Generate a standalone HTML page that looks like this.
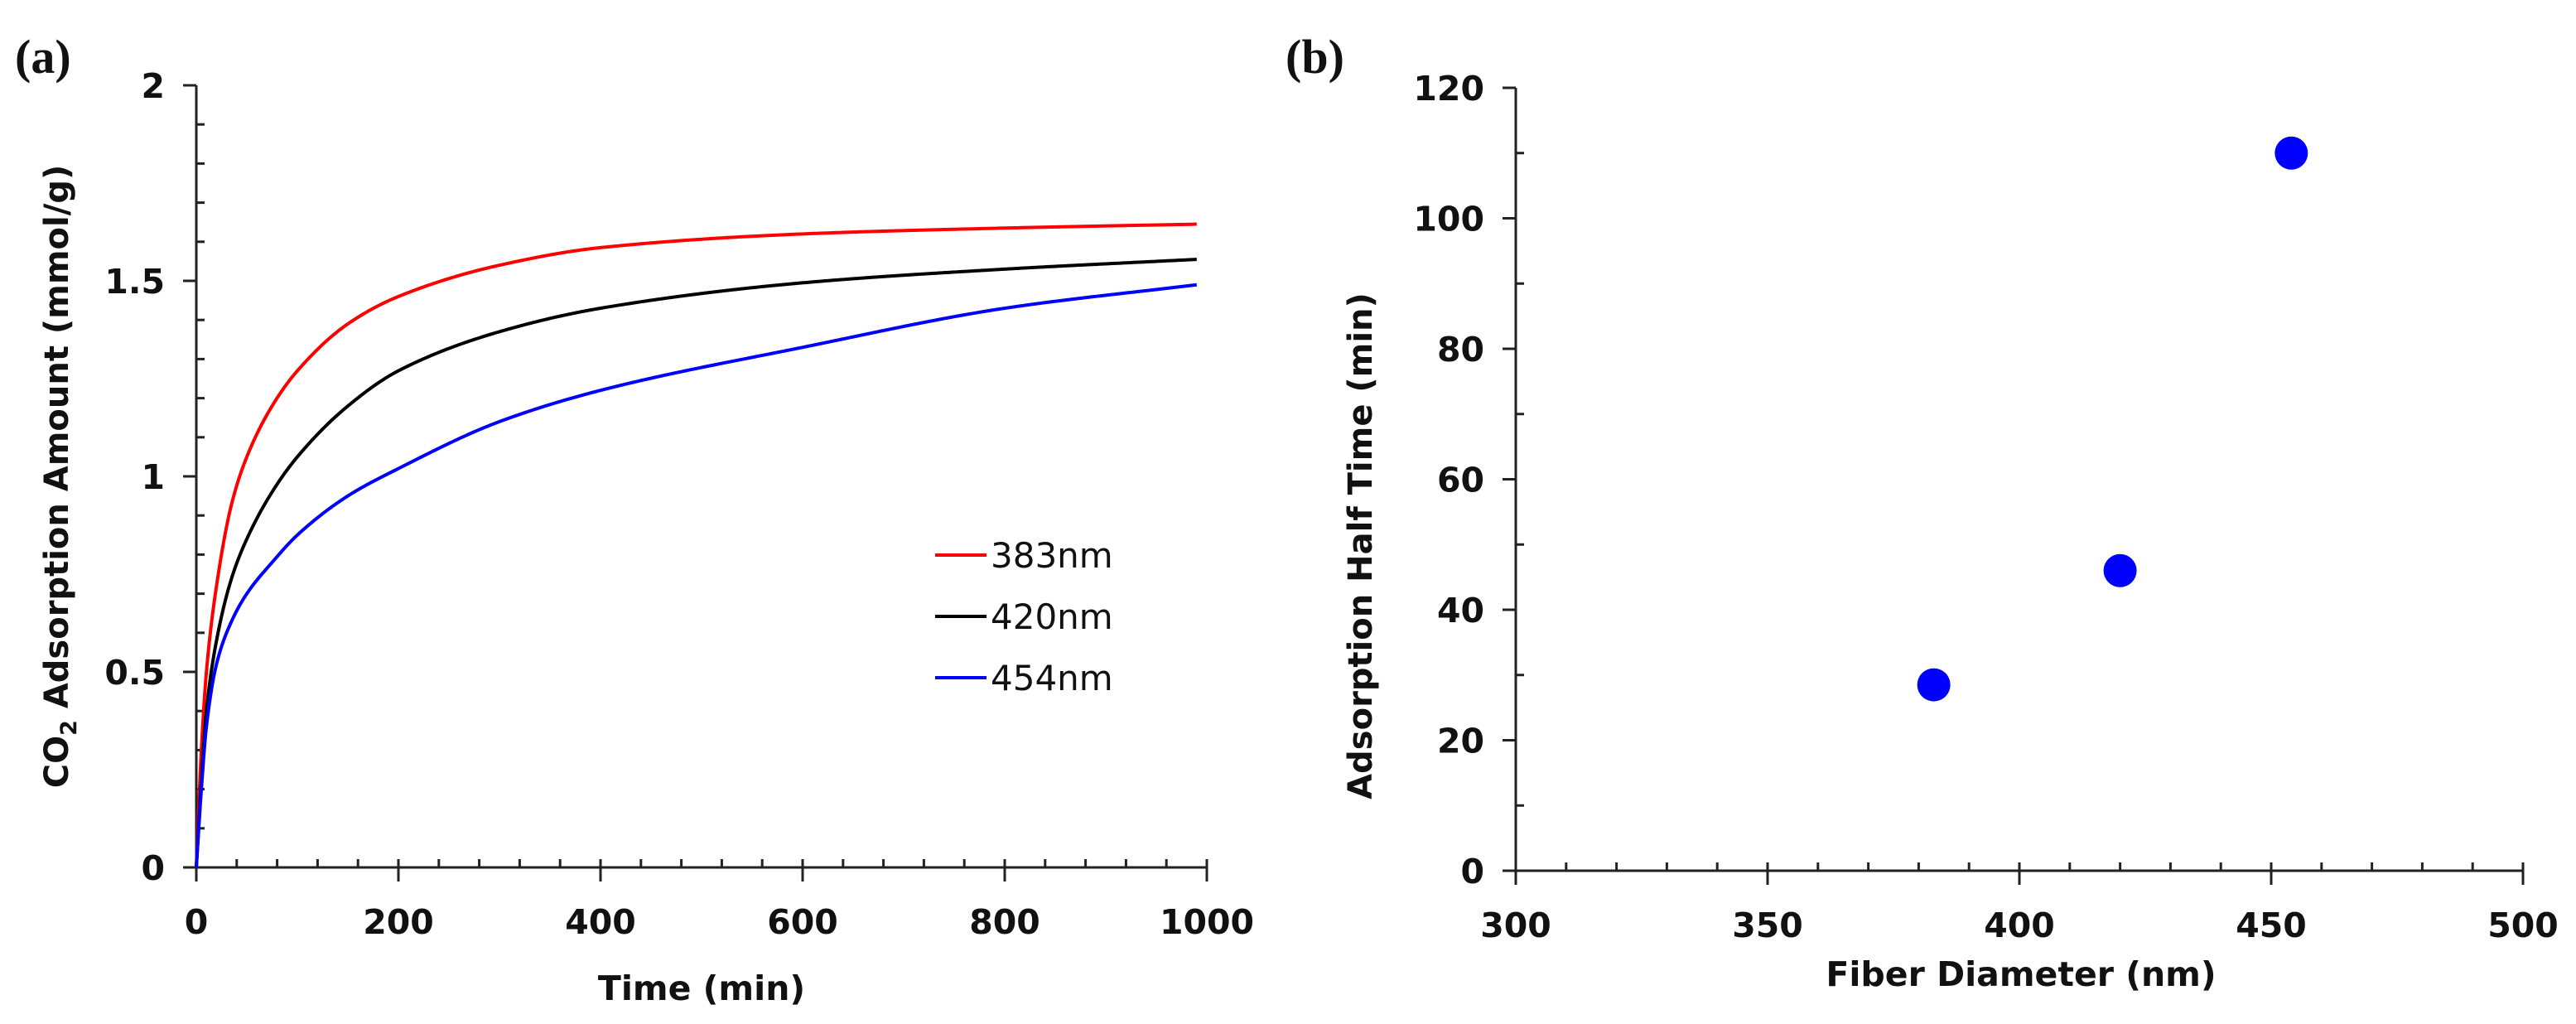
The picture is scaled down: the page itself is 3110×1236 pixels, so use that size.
<!DOCTYPE html>
<html><head><meta charset="utf-8"><style>
html,body{margin:0;padding:0;background:#fff;}
svg{display:block;}
text{font-family:"DejaVu Sans","Liberation Sans",sans-serif;font-weight:bold;fill:#111;}
</style></head><body>
<svg id="fig" width="3110" height="1236" viewBox="0 0 3110 1236" xmlns="http://www.w3.org/2000/svg">
<text x="18" y="88" style="font-family:'Liberation Serif',serif;font-size:58px">(a)</text>
<text x="1552" y="88" style="font-family:'Liberation Serif',serif;font-size:58px">(b)</text>
<g id="chartA"></g>
<g id="chartB"></g>
</svg>
<script>
// Chart A data
const timeA = [0, 5, 10, 20, 35, 50, 75, 100, 150, 200, 300, 400, 600, 800, 990];
const red383 = [0, 0.3, 0.5, 0.72, 0.93, 1.05, 1.18, 1.27, 1.39, 1.46, 1.54, 1.585, 1.62, 1.635, 1.645];
const black420 = [0, 0.22, 0.4, 0.58, 0.74, 0.84, 0.96, 1.05, 1.18, 1.27, 1.37, 1.43, 1.495, 1.53, 1.555];
const blue454 = [0, 0.2, 0.36, 0.52, 0.63, 0.7, 0.78, 0.85, 0.95, 1.02, 1.14, 1.22, 1.33, 1.43, 1.49];
const seriesNames = ["383nm", "420nm", "454nm"];
const seriesColors = ["#ff0000", "#000000", "#0000ff"];
const xTicksA = [0, 200, 400, 600, 800, 1000];
const yTicksA = [0, 0.5, 1, 1.5, 2];
const xTickLabelsA = ["0", "200", "400", "600", "800", "1000"];
const yTickLabelsA = ["0", "0.5", "1", "1.5", "2"];
// Chart B data
const diameters = [383, 420, 454];
const halfTimes = [28.5, 46, 110];
const xTicksB = [300, 350, 400, 450, 500];
const yTicksB = [0, 20, 40, 60, 80, 100, 120];

const NS = "http://www.w3.org/2000/svg";
function mk(parent, tag, attrs, txt) {
  const e = document.createElementNS(NS, tag);
  for (const k in attrs) e.setAttribute(k, attrs[k]);
  if (txt !== undefined) e.textContent = txt;
  parent.appendChild(e);
  return e;
}
// monotone cubic (Fritsch-Carlson) in data space
function monotone(xs, ys) {
  const n = xs.length, d = [], m = [];
  for (let i = 0; i < n - 1; i++) d.push((ys[i + 1] - ys[i]) / (xs[i + 1] - xs[i]));
  m[0] = d[0]; m[n - 1] = d[n - 2];
  for (let i = 1; i < n - 1; i++) {
    if (d[i - 1] * d[i] <= 0) m[i] = 0;
    else { const h0 = xs[i] - xs[i - 1], h1 = xs[i + 1] - xs[i];
      const w1 = 2 * h1 + h0, w2 = h1 + 2 * h0;
      m[i] = (w1 + w2) / (w1 / d[i - 1] + w2 / d[i]); }
  }
  return x => {
    let i = 0; while (i < n - 2 && x > xs[i + 1]) i++;
    const h = xs[i + 1] - xs[i], t = (x - xs[i]) / h;
    const h00 = 2*t*t*t - 3*t*t + 1, h10 = t*t*t - 2*t*t + t, h01 = -2*t*t*t + 3*t*t, h11 = t*t*t - t*t;
    return h00 * ys[i] + h10 * h * m[i] + h01 * ys[i + 1] + h11 * h * m[i + 1];
  };
}
// ---- Chart A ----
const gA = document.getElementById('chartA');
const ax0 = 237, ax1 = 1457, ay0 = 1047, ay1 = 103;
const xA = v => ax0 + (v - 0) / 1000 * (ax1 - ax0);
const yA = v => ay0 - v / 2 * (ay0 - ay1);
for (let v = 40; v < 1000; v += 40) {
  if (v % 200 === 0) continue;
  const t = mk(gA, 'line', {x1: xA(v), x2: xA(v), y1: ay0, y2: ay0 - 10, stroke: '#222', 'stroke-width': 3});
  
  
}
for (let i = 1; i < 20; i++) {
  if (i % 5 === 0) continue;
  const t = mk(gA, 'line', {x1: ax0, x2: ax0 + 10, y1: yA(i * 0.1), y2: yA(i * 0.1), stroke: '#222', 'stroke-width': 3});
  
  
}
xTicksA.forEach((v, i) => {
  const t = mk(gA, 'line', {x1: xA(v), x2: xA(v), y1: ay0 - 10, y2: ay0 + 17, stroke: '#222', 'stroke-width': 3});
  
  
  const l = mk(gA, 'text', {x: xA(v), y: ay0 + 80, 'text-anchor': 'middle', 'font-size': 41}, xTickLabelsA[i]);
  
  
});
yTicksA.forEach((v, i) => {
  const t = mk(gA, 'line', {x1: ax0 - 16, x2: ax0, y1: yA(v), y2: yA(v), stroke: '#222', 'stroke-width': 3});
  
  
  const l = mk(gA, 'text', {x: ax0 - 38, y: yA(v) + 15, 'text-anchor': 'end', 'font-size': 41}, yTickLabelsA[i]);
  
  
});
let axA = mk(gA, 'line', {x1: ax0 - 16, x2: ax1, y1: ay0, y2: ay0, stroke: '#222', 'stroke-width': 3});


axA = mk(gA, 'line', {x1: ax0, x2: ax0, y1: ay1, y2: ay0 + 17, stroke: '#222', 'stroke-width': 3});


[red383, black420, blue454].forEach((s, si) => {
  const f = monotone(timeA, s);
  const tMax = timeA[timeA.length - 1];
  let d = '';
  for (let k = 0; k <= 600; k++) {
    const t = tMax * Math.pow(k / 600, 1.6);
    d += (k ? ' L' : 'M') + xA(t).toFixed(2) + ',' + yA(f(t)).toFixed(2);
  }
  const p = mk(gA, 'path', {d: d, fill: 'none', stroke: seriesColors[si], 'stroke-width': 4});
  
  
  const ly = 670 + si * 74;
  const ll = mk(gA, 'line', {x1: 1129, x2: 1191, y1: ly, y2: ly, stroke: seriesColors[si], 'stroke-width': 4});
  
  
  const lt = mk(gA, 'text', {x: 1196, y: ly + 15, 'font-size': 42, style: 'font-weight:normal'}, seriesNames[si]);
  
  
});
let tA = mk(gA, 'text', {x: 847, y: 1207, 'text-anchor': 'middle', 'font-size': 41}, 'Time (min)');


tA = mk(gA, 'text', {transform: 'translate(82,575) rotate(-90)', 'text-anchor': 'middle', 'font-size': 40});


tA.innerHTML = 'CO<tspan font-size="27" dy="10">2</tspan><tspan dy="-10"> Adsorption Amount (mmol/g)</tspan>';

// ---- Chart B ----
const gB = document.getElementById('chartB');
const bx0 = 1830, bx1 = 3046, by0 = 1051, by1 = 106;
const xB = v => bx0 + (v - 300) / 200 * (bx1 - bx0);
const yB = v => by0 - v / 120 * (by0 - by1);
for (let v = 310; v < 500; v += 10) {
  if (v % 50 === 0) continue;
  const t = mk(gB, 'line', {x1: xB(v), x2: xB(v), y1: by0, y2: by0 - 10, stroke: '#222', 'stroke-width': 3});
  
  
}
for (let v = 10; v < 120; v += 20) {
  const t = mk(gB, 'line', {x1: bx0, x2: bx0 + 10, y1: yB(v), y2: yB(v), stroke: '#222', 'stroke-width': 3});
  
  
}
xTicksB.forEach(v => {
  const t = mk(gB, 'line', {x1: xB(v), x2: xB(v), y1: by0 - 10, y2: by0 + 17, stroke: '#222', 'stroke-width': 3});
  
  
  const l = mk(gB, 'text', {x: xB(v), y: by0 + 80, 'text-anchor': 'middle', 'font-size': 41}, String(v));
  
  
});
yTicksB.forEach(v => {
  const t = mk(gB, 'line', {x1: bx0 - 16, x2: bx0, y1: yB(v), y2: yB(v), stroke: '#222', 'stroke-width': 3});
  
  
  const l = mk(gB, 'text', {x: bx0 - 38, y: yB(v) + 15, 'text-anchor': 'end', 'font-size': 41}, String(v));
  
  
});
let axB = mk(gB, 'line', {x1: bx0 - 16, x2: bx1, y1: by0, y2: by0, stroke: '#222', 'stroke-width': 3});


axB = mk(gB, 'line', {x1: bx0, x2: bx0, y1: by1, y2: by0 + 17, stroke: '#222', 'stroke-width': 3});


diameters.forEach((d, i) => {
  const c = mk(gB, 'ellipse', {cx: xB(d), cy: yB(halfTimes[i]), rx: 20, ry: 20, fill: '#0000ff'});
  
  
});
let tB = mk(gB, 'text', {x: 2440, y: 1190, 'text-anchor': 'middle', 'font-size': 41}, 'Fiber Diameter (nm)');


tB = mk(gB, 'text', {transform: 'translate(1656,659) rotate(-90)', 'text-anchor': 'middle', 'font-size': 40}, 'Adsorption Half Time (min)');


</script>
</body></html>
